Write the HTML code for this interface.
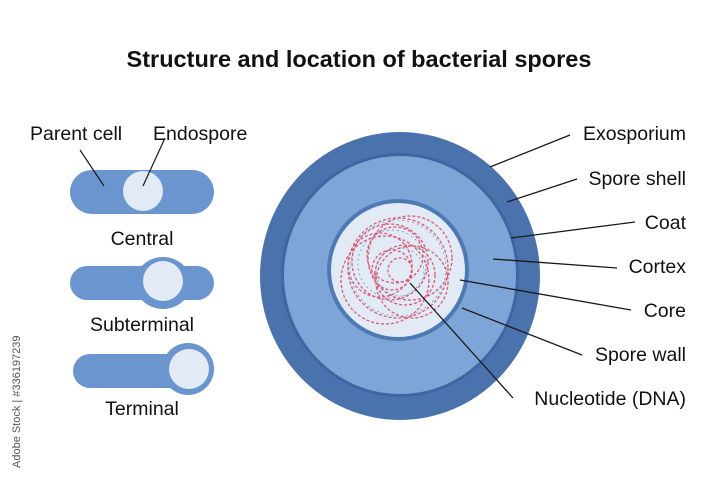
<!DOCTYPE html>
<html><head><style>
body{margin:0;background:#fff;}
svg{display:block;font-family:"Liberation Sans",sans-serif;}
</style></head><body>
<svg width="720" height="480" viewBox="0 0 720 480">
<rect width="720" height="480" fill="#fff"/>
<text x="359" y="67" text-anchor="middle" font-size="23.5" font-weight="bold" fill="#111">Structure and location of bacterial spores</text>

<!-- big spore -->
<ellipse cx="400" cy="276" rx="140" ry="144" fill="#4a73ae"/>
<ellipse cx="400" cy="275" rx="119" ry="122" fill="#3f66a0"/>
<ellipse cx="400" cy="275" rx="116" ry="119" fill="#7ea5d7"/>
<circle cx="398" cy="270" r="71" fill="#4d7ab5"/>
<circle cx="398" cy="270" r="67" fill="#e2eaf5"/>
<g fill="none" stroke="#d9435e" stroke-width="1.3" stroke-dasharray="3 2" opacity="0.85">
<circle cx="398" cy="268" r="50"/>
<circle cx="390" cy="262" r="38"/>
<circle cx="405" cy="275" r="30"/>
<circle cx="392" cy="270" r="20"/>
<circle cx="385" cy="280" r="44"/>
<circle cx="410" cy="258" r="42"/>
<circle cx="395" cy="255" r="28"/>
<circle cx="380" cy="265" r="32"/>
<circle cx="412" cy="282" r="36"/>
<circle cx="400" cy="270" r="12"/>
</g>
<g fill="none" stroke="#6a7fa0" stroke-width="0.8" stroke-dasharray="2 3" opacity="0.8">
<circle cx="398" cy="268" r="48"/>
<circle cx="392" cy="264" r="34"/>
<circle cx="400" cy="272" r="24"/>
</g>

<g stroke="#1a1a1a" stroke-width="1.3">
<line x1="490" y1="167" x2="570" y2="135"/>
<line x1="507" y1="202" x2="577" y2="179"/>
<line x1="511" y1="238" x2="635" y2="222"/>
<line x1="493" y1="259" x2="617" y2="268"/>
<line x1="460" y1="280" x2="631" y2="310"/>
<line x1="462" y1="308" x2="582" y2="355"/>
<line x1="410" y1="283" x2="513" y2="398"/>
</g>
<g font-size="19.5" fill="#111" text-anchor="end">
<text x="686" y="140">Exosporium</text>
<text x="686" y="185">Spore shell</text>
<text x="686" y="229">Coat</text>
<text x="686" y="273">Cortex</text>
<text x="686" y="317">Core</text>
<text x="686" y="361">Spore wall</text>
<text x="686" y="405">Nucleotide (DNA)</text>
</g>

<!-- left cells -->
<rect x="70" y="170" width="144" height="44" rx="22" fill="#6b95cf"/>
<circle cx="143" cy="191" r="20" fill="#e2eaf5"/>
<g stroke="#1a1a1a" stroke-width="1.2">
<line x1="80" y1="150" x2="104" y2="186"/>
<line x1="165" y1="138" x2="143" y2="186"/>
</g>
<g font-size="19.5" fill="#111">
<text x="30" y="140">Parent cell</text>
<text x="153" y="140">Endospore</text>
<text x="142" y="245" text-anchor="middle">Central</text>
<text x="142" y="331" text-anchor="middle">Subterminal</text>
<text x="142" y="415" text-anchor="middle">Terminal</text>
</g>
<rect x="70" y="266" width="144" height="34" rx="17" fill="#6b95cf"/>
<ellipse cx="163" cy="283" rx="28" ry="26" fill="#6b95cf"/>
<circle cx="163" cy="281" r="20" fill="#e2eaf5"/>
<rect x="73" y="354" width="120" height="34" rx="17" fill="#6b95cf"/>
<circle cx="188" cy="369" r="26" fill="#6b95cf"/>
<circle cx="189" cy="369" r="20" fill="#e2eaf5"/>

<text transform="translate(20,468) rotate(-90)" font-size="11" fill="#555">Adobe Stock | #336197239</text>
</svg>
</body></html>
